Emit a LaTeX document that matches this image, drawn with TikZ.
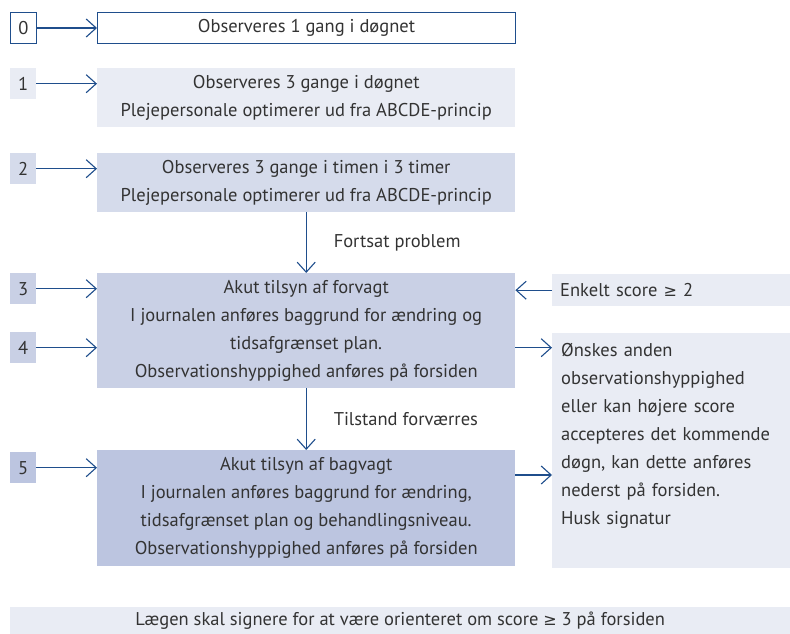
\documentclass[tikz,border=0pt]{standalone}
\usepackage{fontspec}
\setmainfont{PT Sans}
\newfontfamily\symfont{DejaVu Sans}
\usepackage{tikz}
\usetikzlibrary{arrows.meta,positioning,calc}
\definecolor{arrowblue}{HTML}{1F4E8C}
\definecolor{textgray}{HTML}{333333}
\definecolor{fillone}{HTML}{E9ECF4}
\definecolor{filltwo}{HTML}{D5DBEB}
\definecolor{fillthree}{HTML}{C9D0E5}
\definecolor{fillfive}{HTML}{BCC5E0}
\newcommand{\scoregeq}{{\symfont\fontsize{16}{28}\selectfont ≥}}
\tikzset{
  box/.style={anchor=north west, inner sep=0pt, align=center, text=textgray,
    font=\fontsize{18.5}{28}\selectfont},
  lvlbox/.style={box, minimum width=26pt, minimum height=31pt},
  mainbox/.style={box, minimum width=418pt},
  conn/.style={draw=arrowblue, line width=1.1pt, -{Straight Barb[length=10pt,width=18pt]}},
  lbl/.style={text=textgray, font=\fontsize{18.5}{28}\selectfont, inner sep=0pt, anchor=west}
}

\begin{document}
\begin{tikzpicture}[x=1pt,y=-1pt]
   \useasboundingbox (0,0) rectangle (790,634);
   \node[lvlbox, draw=arrowblue, line width=1pt] (l0) at (10,12) {0};
   \node[mainbox, draw=arrowblue, line width=1pt, minimum height=31pt] (m0) at (97,12) {Observeres 1 gang i døgnet};
   \node[lvlbox, fill=fillone] (l1) at (10,68) {1};
   \node[mainbox, fill=fillone, minimum height=59pt] (m1) at (97,68) {Observeres 3 gange i døgnet\\Plejepersonale optimerer ud fra ABCDE-princip};
   \node[lvlbox, fill=filltwo] (l2) at (10,153) {2};
   \node[mainbox, fill=filltwo, minimum height=59pt] (m2) at (97,153) {Observeres 3 gange i timen i 3 timer\\Plejepersonale optimerer ud fra ABCDE-princip};
   \node[lvlbox, fill=fillthree] (l3) at (10,273) {3};
   \node[lvlbox, fill=fillthree] (l4) at (10,332) {4};
   \node[mainbox, fill=fillthree, minimum height=115pt] (m3) at (97,273) {Akut tilsyn af forvagt\\I journalen anføres baggrund for ændring og\\tidsafgrænset plan.\\Observationshyppighed anføres på forsiden};
   \node[lvlbox, fill=fillfive] (l5) at (10,452) {5};
   \node[mainbox, fill=fillfive, minimum height=116pt] (m5) at (97,450) {Akut tilsyn af bagvagt\\I journalen anføres baggrund for ændring,\\tidsafgrænset plan og behandlingsniveau.\\Observationshyppighed anføres på forsiden};
   \node[box, fill=fillone, text width=222pt, align=left, inner xsep=8pt, minimum height=32pt] (enkelt) at (552,274) {Enkelt score \scoregeq\ 2};
   \node[box, fill=fillone, text width=221pt, align=left, inner xsep=9pt, inner ysep=10pt, text height=13pt, text depth=202pt] (note) at (552,333) {Ønskes anden\\observationshyppighed\\eller kan højere score\\accepteres det kommende\\døgn, kan dette anføres\\nederst på forsiden.\\Husk signatur};
   \node[box, fill=fillone, minimum width=780pt, minimum height=27pt] (doctor) at (10,607) {Lægen skal signere for at være orienteret om score \scoregeq\ 3 på forsiden};
   \foreach \l/\m in {l0/m0, l1/m1, l2/m2, l3/m3, l4/m3, l5/m5}
      \draw[conn] (\l.east) -- (\l.east -| \m.west);
   \draw[conn] (m2) -- (m3) node[midway, lbl, right=27pt] {Fortsat problem};
   \draw[conn] (m3) -- (m5) node[midway, lbl, right=27pt] {Tilstand forværres};
   \draw[conn] (enkelt.west) -- (enkelt.west -| m3.east);
   \draw[conn] (l4.east -| m3.east) -- (l4.east -| note.west);
   \draw[conn] ($(m5.north east)+(0,25)$) -- ($(m5.north east -| note.west)+(0,25)$);
\end{tikzpicture}
\end{document}
